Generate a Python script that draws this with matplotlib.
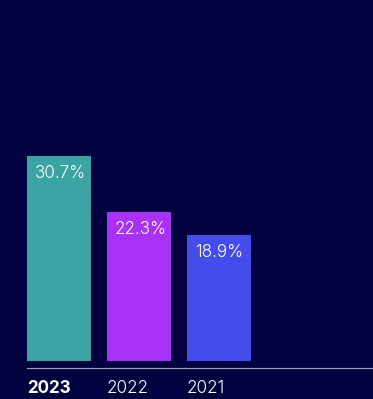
import matplotlib
matplotlib.use("Agg")
import matplotlib.pyplot as plt

years = ["2023", "2022", "2021"]
shares = [30.7, 22.3, 18.9]
bar_colors = ["#3AA3A3", "#A832F5", "#444CEB"]

BG = "#02013F"
DPI = 72
W, H = 373, 399
FONT = "Inter"

fig = plt.figure(figsize=(W / DPI, H / DPI), dpi=DPI, facecolor=BG)
# axes box in pixel units: left 27, bottom spine at y=368 (from top)
ax = fig.add_axes([27 / W, (H - 368) / H, (W - 27) / W, 368 / H])
ax.set_facecolor(BG)

x = list(range(len(years)))
width = 0.8
ax.bar(x, shares, width=width, color=bar_colors, zorder=2)

scale = 205 / 30.7  # px per percentage point
ax.set_ylim(-7 / scale, 361 / scale)
ax.set_xlim(-0.4, (W - 27) / 80 - 0.4)

for xi, v in zip(x, shares):
    ax.annotate(f"{v}%", xy=(xi - width / 2, v), xytext=(8, -9),
                textcoords="offset points", ha="left", va="top",
                color="white", fontsize=17, family=FONT, fontweight=300)

ax.set_xticks([xi - width / 2 for xi in x])
ax.set_xticklabels(years)
for i, lbl in enumerate(ax.get_xticklabels()):
    lbl.set_horizontalalignment("left")
    lbl.set_family(FONT)
    lbl.set_fontsize(17)
    lbl.set_color("white")
    lbl.set_fontweight("bold" if i == 0 else 300)
ax.tick_params(axis="x", length=0, pad=12)
ax.set_yticks([])

for s in ["top", "right", "left"]:
    ax.spines[s].set_visible(False)
ax.spines["bottom"].set_color("#9A9AB2")
ax.spines["bottom"].set_linewidth(1.2)

fig.savefig("out.png", dpi=DPI, facecolor=BG)
